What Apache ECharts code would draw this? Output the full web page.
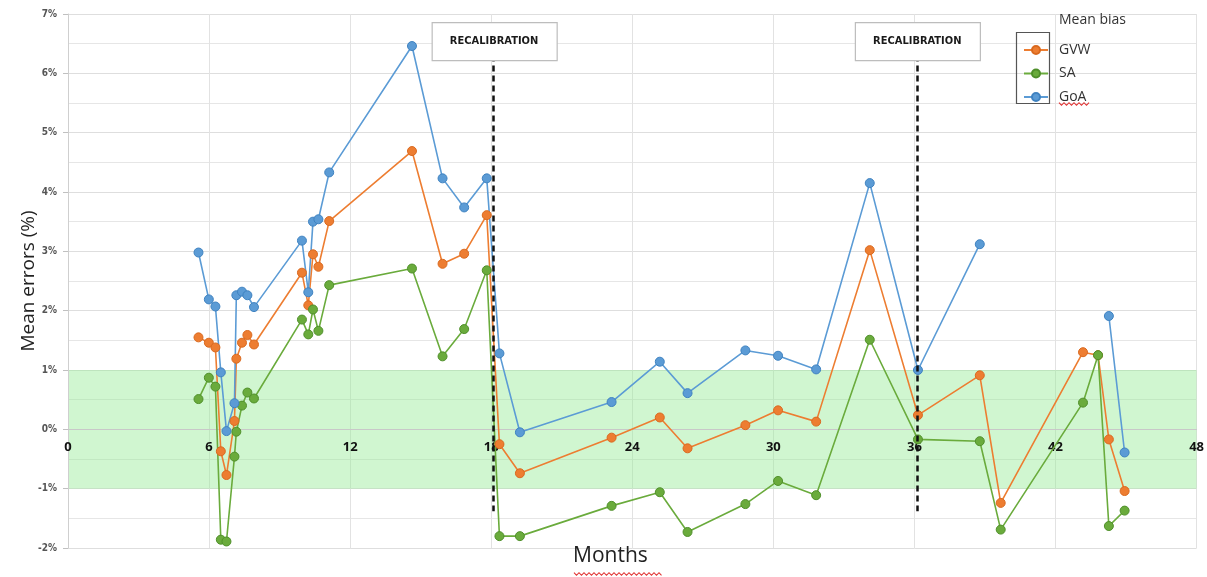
<!DOCTYPE html>
<html>
<head>
<meta charset="utf-8">
<script src="https://cdn.jsdelivr.net/npm/echarts@6/dist/echarts.min.js"></script>
<style>
html,body{margin:0;padding:0;background:#fff;}
#c{width:1207px;height:577px;}
</style>
</head>
<body>
<div id="c"></div>
<script>
// Months (x positions of the measurements)
const months = [5.55, 5.99, 6.27, 6.50, 6.74, 7.08, 7.16, 7.40, 7.63, 7.91,
  9.95, 10.22, 10.42, 10.65, 11.11, 14.63, 15.93, 16.85, 17.81, 18.35, 19.22,
  23.12, 25.17, 26.35, 28.81, 30.20, 31.82, 34.10, 36.15, 38.78, 39.67,
  43.17, 43.81, 44.27, 44.94];

// Mean bias (%)
const gvw = [1.55, 1.46, 1.38, -0.37, -0.77, 0.14, 1.19, 1.46, 1.59, 1.43,
  2.64, 2.09, 2.95, 2.74, 3.51, 4.69, 2.79, 2.96, 3.61, -0.25, -0.74,
  -0.14, 0.20, -0.32, 0.07, 0.32, 0.13, 3.02, 0.24, 0.91, -1.24,
  1.30, 1.25, -0.17, -1.04];
const sa = [0.51, 0.87, 0.72, -1.86, -1.89, -0.46, -0.04, 0.40, 0.62, 0.52,
  1.85, 1.60, 2.02, 1.66, 2.43, 2.71, 1.23, 1.69, 2.68, -1.80, -1.80,
  -1.29, -1.06, -1.73, -1.26, -0.87, -1.11, 1.51, -0.17, -0.20, -1.69,
  0.45, 1.25, -1.63, -1.37];
const goa = [2.98, 2.19, 2.07, 0.96, -0.03, 0.44, 2.26, 2.32, 2.26, 2.06,
  3.18, 2.31, 3.50, 3.54, 4.33, 6.46, 4.23, 3.74, 4.23, 1.28, -0.05,
  0.46, 1.14, 0.61, 1.33, 1.24, 1.01, 4.15, 1.00, 3.12, null,
  null, null, 1.91, -0.39];

const seriesNames = ['GVW', 'SA', 'GoA'];
const recalMonths = [18.1, 36.1];
const recalRange = [6.3, -1.38];
const toleranceBand = [-1, 1];
const xTicks = [0, 48, 6];   // min, max, interval
const yTicks = [-2, 7, 1];

const colors = {GVW: '#ED7D31', SA: '#6AAB3C', GoA: '#5B9BD5'};
const borders = {GVW: '#D9691F', SA: '#4F8F2A', GoA: '#3F82C0'};

function pairs(ys) { return months.map((m, i) => [m, ys[i]]); }

const chart = echarts.init(document.getElementById('c'), null, {renderer: 'canvas'});

function lineSeries(name, ys) {
  return {
    name: name, type: 'line', data: pairs(ys), connectNulls: false,
    symbol: 'circle', symbolSize: 9, z: 3,
    lineStyle: {color: colors[name], width: 1.6},
    itemStyle: {color: colors[name], borderColor: borders[name], borderWidth: 1},
    emphasis: {disabled: true}, animation: false
  };
}

const option = {
  animation: false,
  grid: {left: 68, right: 10, top: 14, bottom: 29, containLabel: false},
  xAxis: {
    type: 'value', min: xTicks[0], max: xTicks[1], interval: xTicks[2], z: 1,
    axisLine: {show: true, onZero: false, lineStyle: {color: '#c8c8c8', width: 1}},
    axisTick: {show: false},
    axisLabel: {color: '#111', fontWeight: 'bold', fontSize: 13, margin: 11,
      fontFamily: 'Open Sans, Liberation Sans, sans-serif'},
    splitLine: {show: true, lineStyle: {color: '#e2e2e2', width: 1}}
  },
  yAxis: {
    type: 'value', min: yTicks[0], max: yTicks[1], interval: yTicks[2], z: 1,
    name: 'Mean errors (%)', nameLocation: 'middle', nameGap: 30, nameMoveOverlap: false,
    nameTextStyle: {fontSize: 19, color: '#222', fontFamily: 'Open Sans, Liberation Sans, sans-serif'},
    axisLine: {show: true, lineStyle: {color: '#cfcfcf'}},
    axisTick: {show: true, length: 5, inside: false, lineStyle: {color: '#c0c0c0'}},
    minorTick: {show: false, splitNumber: 2},
    minorSplitLine: {show: true, lineStyle: {color: '#e6e6e6', width: 1}},
    splitLine: {show: true, lineStyle: {color: '#dedede', width: 1}},
    axisLabel: {color: '#555', fontSize: 10, fontWeight: 'bold', margin: 11,
      fontFamily: 'DejaVu Sans Condensed, Liberation Sans, sans-serif',
      formatter: v => v + '%'}
  },
  legend: {
    data: seriesNames, orient: 'vertical', left: 1018, top: 37,
    itemWidth: 24, itemHeight: 10, itemGap: 7.5,
    textStyle: {fontSize: 14, color: '#333', lineHeight: 16, padding: [0, 0, 0, 6],
      fontFamily: 'Open Sans, Liberation Sans, sans-serif'},
    selectedMode: false
  },
  series: [
    {
      name: 'band', type: 'line', data: [], z: 0, silent: true,
      markArea: {
        silent: true,
        itemStyle: {color: 'rgba(150, 235, 150, 0.45)'},
        data: [[{yAxis: toleranceBand[0]}, {yAxis: toleranceBand[1]}]]
      }
    },
    lineSeries('GVW', gvw),
    lineSeries('SA', sa),
    lineSeries('GoA', goa),
    {
      name: 'recal', type: 'line', data: [], z: 5, silent: true,
      markLine: {
        silent: true, symbol: ['none', 'none'], label: {show: false},
        lineStyle: {color: '#111', width: 2.5, type: [6, 4]},
        data: recalMonths.map(m => [{coord: [m, recalRange[0]]}, {coord: [m, recalRange[1]]}])
      }
    }
  ]
};
chart.setOption(option);

// Move the x axis (with its labels) up to the 0% line
const zeroY = chart.convertToPixel({yAxisIndex: 0}, 0);
const minY = chart.convertToPixel({yAxisIndex: 0}, yTicks[0]);
chart.setOption({xAxis: {offset: -(minY - zeroY)}});

// Annotations positioned from axis scales
const graphics = [];
recalMonths.forEach(m => {
  const p = chart.convertToPixel({xAxisIndex: 0, yAxisIndex: 0}, [m, 0]);
  graphics.push({type: 'rect', left: p[0] - 62, top: 22, z: 20,
    shape: {x: 0, y: 0, width: 125, height: 38},
    style: {fill: '#fff', stroke: '#bdbdbd', lineWidth: 1.2}});
  graphics.push({type: 'text', x: p[0] + 0.5, y: 41, z: 21,
    style: {text: 'RECALIBRATION', fill: '#1a1a1a', font: 'bold 11px "DejaVu Sans Condensed", "Liberation Sans", sans-serif',
      textAlign: 'center', textVerticalAlign: 'middle'}});
});
graphics.push({type: 'rect', left: 1014, top: 30, z: 20,
  shape: {x: 0, y: 0, width: 33, height: 71},
  style: {fill: 'none', stroke: '#555', lineWidth: 1.2}});
graphics.push({type: 'text', left: 1059, top: 13, z: 20,
  style: {text: 'Mean bias', fill: '#333', font: '14px "Open Sans", "Liberation Sans", sans-serif'}});
graphics.push({type: 'text', left: 573, top: 546, z: 20,
  style: {text: 'Months', fill: '#222', font: '21px "Open Sans", "Liberation Sans", sans-serif'}});

function wavy(x0, x1, y) {
  const pts = [];
  let up = true;
  for (let x = x0; x <= x1; x += 2.5) { pts.push([x, up ? y - 1.3 : y + 1.3]); up = !up; }
  return {type: 'polyline', z: 21, shape: {points: pts}, style: {stroke: '#e03030', lineWidth: 1.1, fill: 'none'}};
}
graphics.push(wavy(574, 662, 574));
graphics.push(wavy(1059, 1090, 104));

chart.setOption({graphic: graphics});
</script>
</body>
</html>
